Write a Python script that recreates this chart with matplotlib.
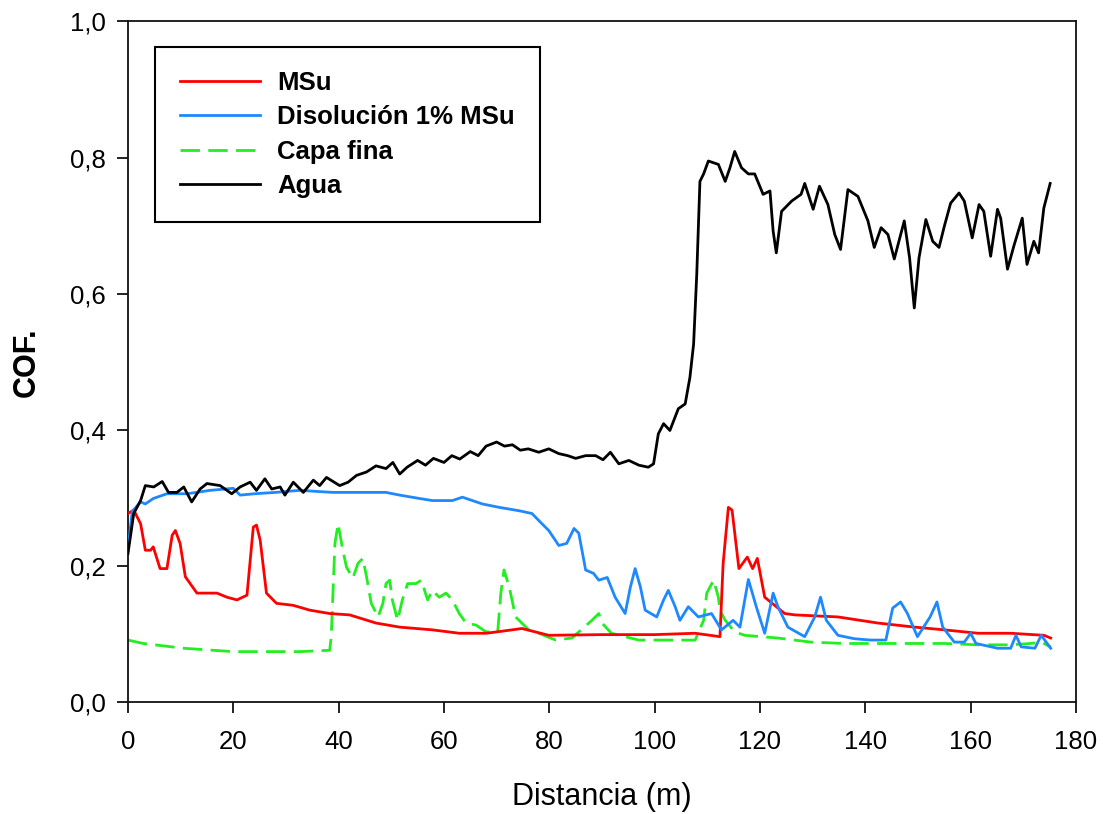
import numpy as np
import matplotlib
matplotlib.use("Agg")
from matplotlib import pyplot as plt
from matplotlib.ticker import FuncFormatter

plt.rcParams['font.family'] = ['Liberation Sans', 'DejaVu Sans']

# MSu
msu_x = [0, 1.1, 2.4, 3.3, 4.3, 4.8, 6.1, 7.4, 8.4, 9.0, 9.9, 10.9, 13.1, 16.9, 18.8,
         20.7, 22.6, 23.8, 24.4, 25.1, 26.3, 28.2, 31.4, 34.5, 38.3, 42.1, 47.1, 51.6,
         57.8, 62.9, 68.0, 71.0, 74.8, 79.9, 90.0, 100.0, 107.7, 112.4, 113.0, 114.0,
         114.7, 116.0, 117.6, 118.6, 119.5, 120.9, 124.7, 126.6, 134.8, 142.4, 149.4,
         155.0, 161.4, 167.6, 173.9, 175.2]
msu_y = [0.277, 0.282, 0.262, 0.223, 0.223, 0.228, 0.196, 0.196, 0.245, 0.252, 0.233,
         0.184, 0.160, 0.160, 0.154, 0.150, 0.157, 0.257, 0.260, 0.238, 0.160, 0.145,
         0.142, 0.135, 0.130, 0.128, 0.116, 0.110, 0.106, 0.101, 0.101, 0.104, 0.108,
         0.098, 0.099, 0.099, 0.101, 0.096, 0.203, 0.286, 0.282, 0.196, 0.213, 0.196,
         0.211, 0.154, 0.130, 0.128, 0.125, 0.116, 0.110, 0.106, 0.101, 0.101, 0.098,
         0.094]

# Disolución 1% MSu
dis_x = [0, 0.8, 2.4, 3.3, 4.8, 7.4, 11.2, 15.6, 20.0, 21.3, 24.0, 28.0, 32.6, 38.9,
         44.0, 49.0, 51.6, 55.4, 57.8, 61.6, 63.5, 67.3, 70.5, 74.3, 76.7, 78.6, 79.9,
         81.8, 83.3, 84.7, 85.6, 86.9, 88.4, 89.4, 91.0, 92.5, 94.4, 95.4, 96.3, 97.3,
         98.2, 100.4, 101.7, 102.6, 103.9, 104.8, 106.4, 108.3, 110.8, 112.7, 114.9,
         116.2, 117.8, 119.3, 120.9, 122.5, 123.4, 125.3, 128.5, 130.4, 131.5, 132.6,
         134.8, 137.9, 141.0, 143.9, 145.2, 146.7, 148.0, 149.9, 152.3, 153.6, 154.7,
         156.9, 158.8, 160.0, 161.0, 165.1, 167.6, 168.6, 169.6, 172.2, 173.4, 175.2]
dis_y = [0.223, 0.280, 0.294, 0.291, 0.299, 0.306, 0.306, 0.311, 0.314, 0.304, 0.306,
         0.308, 0.311, 0.308, 0.308, 0.308, 0.304, 0.299, 0.296, 0.296, 0.301, 0.291,
         0.286, 0.281, 0.277, 0.262, 0.252, 0.230, 0.233, 0.255, 0.248, 0.194, 0.189,
         0.179, 0.183, 0.154, 0.130, 0.169, 0.196, 0.169, 0.135, 0.125, 0.150, 0.164,
         0.140, 0.120, 0.140, 0.125, 0.130, 0.106, 0.120, 0.110, 0.180, 0.140, 0.101,
         0.160, 0.140, 0.110, 0.096, 0.125, 0.154, 0.120, 0.098, 0.093, 0.091, 0.091,
         0.138, 0.147, 0.130, 0.096, 0.125, 0.147, 0.110, 0.088, 0.088, 0.101, 0.086,
         0.079, 0.079, 0.098, 0.081, 0.079, 0.098, 0.079]

# Capa fina
capa_x = [0, 2.9, 10.5, 20.0, 26.3, 32.6, 38.3, 38.6, 39.3, 39.9, 40.8, 41.5, 42.7,
          43.7, 44.6, 45.3, 46.2, 47.5, 48.4, 49.0, 49.7, 50.2, 51.2, 52.1, 53.1, 54.7,
          55.7, 56.9, 57.8, 59.1, 60.4, 61.6, 62.9, 64.2, 66.1, 68.0, 70.2, 70.8, 71.4,
          72.4, 73.6, 76.1, 78.0, 81.2, 84.3, 88.1, 89.4, 90.0, 91.8, 97.0, 102.0,
          107.7, 109.3, 109.9, 111.2, 112.1, 112.4, 113.4, 115.2, 117.1, 123.4, 129.7,
          136.0, 142.4, 148.7, 155.0, 161.4, 167.6, 171.4, 173.4, 175.2]
capa_y = [0.091, 0.086, 0.079, 0.074, 0.074, 0.074, 0.076, 0.096, 0.233, 0.262, 0.223,
          0.198, 0.182, 0.204, 0.211, 0.184, 0.145, 0.125, 0.145, 0.174, 0.179, 0.150,
          0.120, 0.150, 0.174, 0.174, 0.179, 0.150, 0.164, 0.154, 0.160, 0.150, 0.130,
          0.116, 0.113, 0.103, 0.103, 0.160, 0.194, 0.169, 0.125, 0.106, 0.101, 0.091,
          0.094, 0.120, 0.130, 0.116, 0.101, 0.091, 0.091, 0.091, 0.120, 0.160, 0.179,
          0.154, 0.135, 0.120, 0.103, 0.098, 0.094, 0.088, 0.086, 0.086, 0.086, 0.086,
          0.084, 0.084, 0.086, 0.088, 0.081]

# Agua
agua_x = [0, 1.1, 2.4, 3.3, 4.9, 6.5, 7.7, 9.3, 10.6, 12.1, 13.7, 15.0, 17.5, 19.7,
          21.3, 23.2, 24.4, 26.0, 27.3, 28.9, 29.8, 31.4, 33.3, 35.2, 36.4, 37.7, 40.2,
          41.8, 43.4, 45.3, 47.1, 49.0, 50.3, 51.6, 53.0, 55.0, 56.5, 58.0, 60.0, 61.5,
          63.0, 65.0, 66.5, 68.0, 70.0, 71.5, 73.0, 74.5, 76.0, 78.0, 79.9, 81.8, 83.5,
          85.0, 86.9, 88.8, 90.2, 91.6, 93.2, 95.1, 97.0, 98.8, 99.8, 100.7, 101.7,
          102.9, 104.5, 105.8, 106.7, 107.4, 108.0, 108.6, 109.3, 110.2, 112.1, 113.4,
          114.3, 115.2, 116.5, 117.8, 119.0, 120.6, 121.9, 122.5, 123.1, 124.1, 126.0,
          127.8, 128.5, 130.1, 131.3, 132.9, 134.2, 135.3, 136.7, 138.6, 140.5, 141.7,
          143.0, 144.3, 145.5, 147.4, 148.4, 149.3, 150.2, 151.5, 152.8, 154.0, 155.0,
          156.2, 157.8, 158.8, 160.3, 161.6, 162.5, 163.8, 165.1, 165.7, 167.0, 168.2,
          169.8, 170.7, 172.0, 172.9, 173.9, 175.1]
agua_y = [0.218, 0.277, 0.296, 0.318, 0.316, 0.324, 0.308, 0.308, 0.316, 0.294, 0.313,
          0.321, 0.318, 0.306, 0.316, 0.323, 0.311, 0.328, 0.313, 0.316, 0.304, 0.323,
          0.308, 0.326, 0.318, 0.330, 0.318, 0.323, 0.333, 0.338, 0.347, 0.343, 0.352,
          0.335, 0.345, 0.355, 0.348, 0.358, 0.352, 0.362, 0.357, 0.368, 0.362, 0.376,
          0.382, 0.376, 0.378, 0.370, 0.372, 0.367, 0.372, 0.365, 0.362, 0.358, 0.362,
          0.362, 0.356, 0.367, 0.350, 0.355, 0.348, 0.345, 0.350, 0.394, 0.409, 0.399,
          0.431, 0.438, 0.477, 0.526, 0.629, 0.765, 0.776, 0.795, 0.790, 0.765, 0.785,
          0.809, 0.785, 0.776, 0.776, 0.746, 0.751, 0.692, 0.660, 0.721, 0.736, 0.746,
          0.762, 0.724, 0.758, 0.731, 0.687, 0.665, 0.753, 0.743, 0.707, 0.668, 0.697,
          0.687, 0.651, 0.707, 0.653, 0.579, 0.653, 0.709, 0.677, 0.668, 0.699, 0.733,
          0.748, 0.736, 0.682, 0.731, 0.721, 0.655, 0.724, 0.711, 0.636, 0.670, 0.711,
          0.643, 0.677, 0.660, 0.726, 0.762]

fig = plt.figure(figsize=(11.03, 8.14), dpi=100)
ax = fig.add_axes([0.116, 0.1376, 0.8595, 0.836])

lw = 2.0
ax.plot(msu_x, msu_y, color='#ff0000', lw=lw, label='MSu', zorder=3)
ax.plot(dis_x, dis_y, color='#1e88ff', lw=lw, label='Disolución 1% MSu', zorder=4)
ax.plot(capa_x, capa_y, color='#22ee22', lw=lw, dashes=(7, 3), label='Capa fina', zorder=2)
ax.plot(agua_x, agua_y, color='black', lw=lw, label='Agua', zorder=5)

ax.set_xlim(0, 180)
ax.set_ylim(0, 1.0)
ax.set_xticks(np.arange(0, 181, 20))
ax.set_yticks(np.arange(0, 1.01, 0.2))
ax.yaxis.set_major_formatter(FuncFormatter(lambda v, p: f'{v:.1f}'.replace('.', ',')))

for s in ax.spines.values():
    s.set_linewidth(1.3)
    s.set_color('#111111')
ax.tick_params(direction='out', length=8, width=1.3, labelsize=18.5, color='#111111')
ax.tick_params(axis='x', pad=12)
ax.tick_params(axis='y', pad=8)

ax.set_xlabel('Distancia (m)', fontsize=22)
ax.xaxis.set_label_coords(0.5, -0.118)
ax.set_ylabel('COF.', fontsize=22, fontweight='bold', va='center')
ax.yaxis.set_label_coords(-0.107, 0.5)

leg = ax.legend(loc='upper left', bbox_to_anchor=(0.029, 0.963), frameon=True,
                fancybox=False, edgecolor='black', framealpha=1,
                prop={'weight': 'bold', 'size': 18.5}, handlelength=3.1,
                handletextpad=0.7, labelspacing=0.4, borderpad=0.95, borderaxespad=0)
leg.get_frame().set_linewidth(1.5)

plt.savefig('out.png', dpi=100)
